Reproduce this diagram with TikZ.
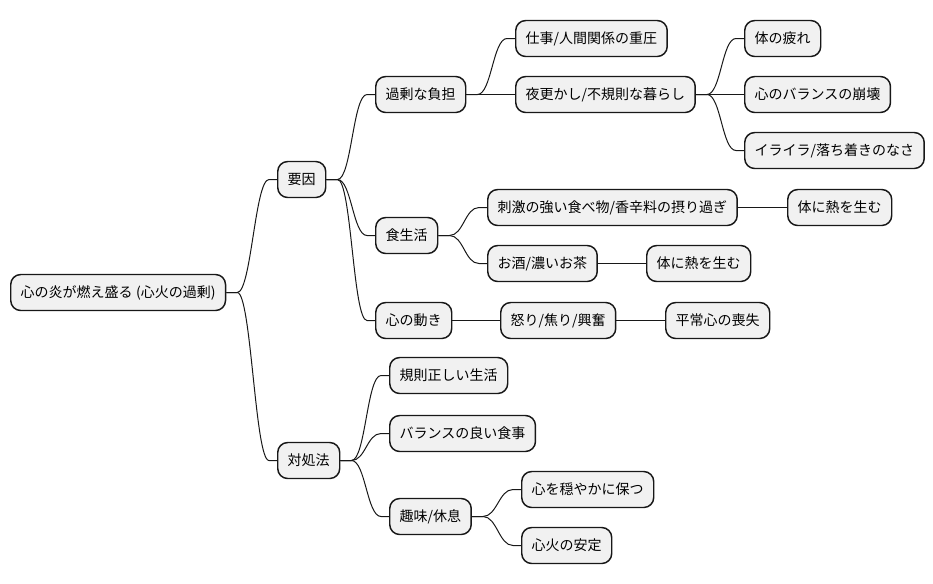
\documentclass[tikz,border=0pt]{standalone}
\usepackage{fontspec}
\setmainfont{Noto Sans CJK JP}
\definecolor{nodefill}{HTML}{F1F1F1}
\definecolor{nodeline}{HTML}{181818}
\begin{document}
\begin{tikzpicture}[x=0.75pt,y=-0.75pt,
  mm/.style={draw=nodeline,fill=nodefill,line width=1.1pt,rounded corners=7.5pt,
    minimum height=27pt,inner xsep=7.5pt,inner ysep=0pt,anchor=west,
    font=\fontsize{10.5pt}{12pt}\selectfont,text=black},
  conn/.style={draw=nodeline,line width=0.75pt}]
\useasboundingbox (0,0) rectangle (933,583);
% nodes
\node[mm] (root) at (10,292.5) {心の炎が燃え盛る\hspace{2.5pt}(心火の過剰)};
\node[mm] (yoin) at (277,179.5) {要因};
\node[mm] (kajo) at (375,94.5) {過剰な負担};
\node[mm] (shigoto) at (515,38.5) {仕事/人間関係の重圧};
\node[mm] (yofu) at (515,94.5) {夜更かし/不規則な暮らし};
\node[mm] (tsuka) at (744,38.5) {体の疲れ};
\node[mm] (bal) at (744,94.5) {心のバランスの崩壊};
\node[mm] (ira) at (744,150.5) {イライラ/落ち着きのなさ};
\node[mm] (shoku) at (375,235.5) {食生活};
\node[mm] (shige) at (487,207.5) {刺激の強い食べ物/香辛料の摂り過ぎ};
\node[mm] (netsuA) at (787,207.5) {体に熱を生む};
\node[mm] (osake) at (487,263.5) {お酒/濃いお茶};
\node[mm] (netsuB) at (646,263.5) {体に熱を生む};
\node[mm] (ugoki) at (375,320.5) {心の動き};
\node[mm] (ikari) at (500,320.5) {怒り/焦り/興奮};
\node[mm] (heijo) at (665,320.5) {平常心の喪失};
\node[mm] (taisho) at (277,460.5) {対処法};
\node[mm] (kisoku) at (389,375.5) {規則正しい生活};
\node[mm] (balsh) at (389,433.5) {バランスの良い食事};
\node[mm] (shumi) at (389,516.5) {趣味/休息};
\node[mm] (oda) at (521,489.5) {心を穏やかに保つ};
\node[mm] (antei) at (521,545.5) {心火の安定};
% curved connectors
\foreach \a/\b in {root/yoin,root/taisho,yoin/kajo,yoin/shoku,yoin/ugoki,
  kajo/shigoto,kajo/yofu,yofu/tsuka,yofu/bal,yofu/ira,shoku/shige,shoku/osake,
  taisho/kisoku,taisho/balsh,taisho/shumi,shumi/oda,shumi/antei}
  \draw[conn] (\a.east) -- ++(11,0) .. controls +(14,0) and +(-14,0) .. ([xshift=-6pt]\b.west) -- (\b.west);
% straight connectors
\foreach \a/\b in {shige/netsuA,osake/netsuB,ugoki/ikari,ikari/heijo}
  \draw[conn] (\a.east) -- (\b.west);
\end{tikzpicture}
\end{document}
